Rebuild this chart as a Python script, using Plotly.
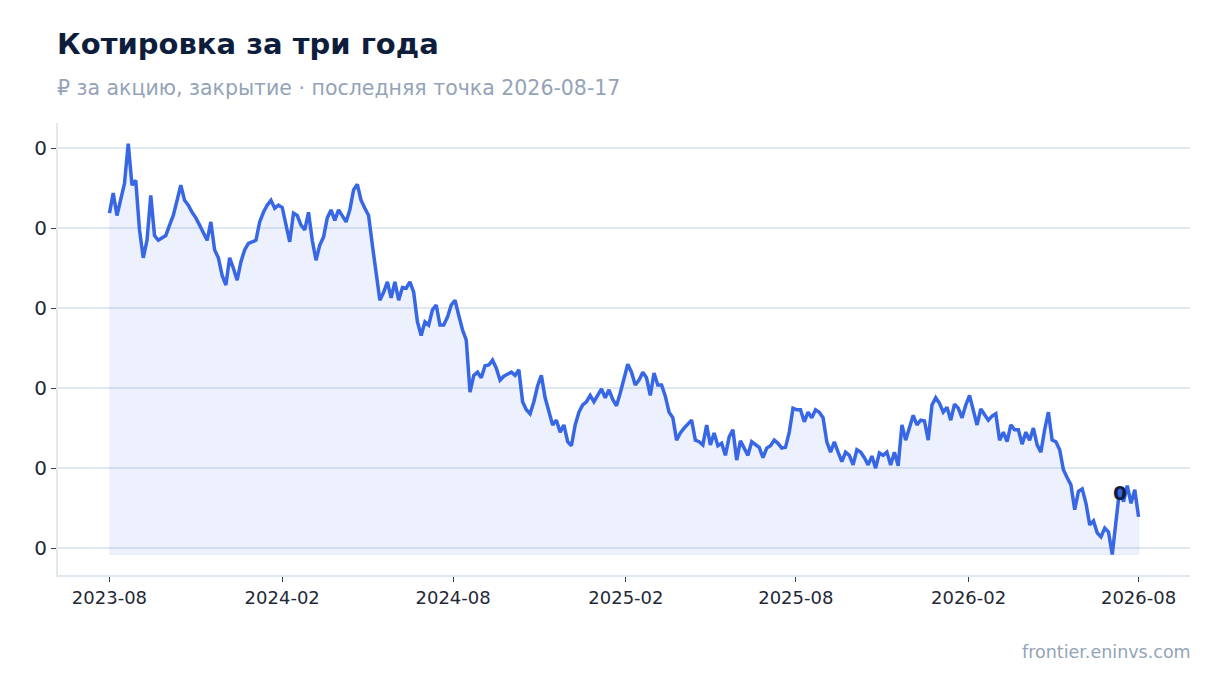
import plotly.graph_objects as go
import pandas as pd

# daily closes sampled every 4 days, 2023-08-17 .. 2026-08-17
dates = pd.date_range("2023-08-17", "2026-08-17", freq="4D")

close = [
    0.0519, 0.0544, 0.0516, 0.0535, 0.0556, 0.0606, 0.0554, 0.0560, 0.0498, 0.0463,
    0.0485, 0.0541, 0.0491, 0.0485, 0.0488, 0.0491, 0.0504, 0.0516, 0.0535, 0.0554,
    0.0535, 0.0529, 0.0520, 0.0513, 0.0504, 0.0495, 0.0485, 0.0508, 0.0473, 0.0463,
    0.0441, 0.0429, 0.0463, 0.0450, 0.0435, 0.0458, 0.0473, 0.0481, 0.0483, 0.0485,
    0.0508, 0.0520, 0.0529, 0.0535, 0.0525, 0.0529, 0.0526, 0.0504, 0.0483, 0.0519,
    0.0516, 0.0504, 0.0498, 0.0520, 0.0485, 0.0460, 0.0479, 0.0489, 0.0513, 0.0523,
    0.0510, 0.0523, 0.0516, 0.0508, 0.0523, 0.0548, 0.0555, 0.0535, 0.0525, 0.0516,
    0.0479, 0.0448, 0.0410, 0.0420, 0.0433, 0.0413, 0.0433, 0.0410, 0.0426, 0.0425,
    0.0433, 0.0420, 0.0383, 0.0366, 0.0383, 0.0379, 0.0398, 0.0404, 0.0379, 0.0379,
    0.0389, 0.0404, 0.0410, 0.0391, 0.0373, 0.0360, 0.0295, 0.0316, 0.0320, 0.0313,
    0.0328, 0.0329, 0.0335, 0.0325, 0.0310, 0.0315, 0.0318, 0.0320, 0.0316, 0.0323,
    0.0283, 0.0273, 0.0268, 0.0283, 0.0303, 0.0316, 0.0288, 0.0270, 0.0254, 0.0260,
    0.0245, 0.0254, 0.0233, 0.0228, 0.0254, 0.0270, 0.0279, 0.0283, 0.0291, 0.0283,
    0.0291, 0.0299, 0.0288, 0.0298, 0.0286, 0.0278, 0.0294, 0.0313, 0.0330, 0.0320,
    0.0304, 0.0310, 0.0320, 0.0313, 0.0291, 0.0319, 0.0304, 0.0304, 0.0290, 0.0270,
    0.0263, 0.0235, 0.0244, 0.0250, 0.0255, 0.0260, 0.0235, 0.0233, 0.0229, 0.0254,
    0.0229, 0.0244, 0.0228, 0.0231, 0.0216, 0.0239, 0.0248, 0.0210, 0.0234, 0.0226,
    0.0216, 0.0233, 0.0230, 0.0226, 0.0213, 0.0225, 0.0228, 0.0235, 0.0231, 0.0225,
    0.0226, 0.0245, 0.0275, 0.0273, 0.0273, 0.0258, 0.0270, 0.0263, 0.0273, 0.0270,
    0.0263, 0.0233, 0.0220, 0.0233, 0.0220, 0.0208, 0.0220, 0.0216, 0.0204, 0.0223,
    0.0220, 0.0213, 0.0204, 0.0215, 0.0200, 0.0219, 0.0216, 0.0220, 0.0204, 0.0220,
    0.0203, 0.0254, 0.0235, 0.0250, 0.0266, 0.0254, 0.0260, 0.0259, 0.0235, 0.0279,
    0.0288, 0.0281, 0.0270, 0.0276, 0.0260, 0.0280, 0.0275, 0.0263, 0.0279, 0.0291,
    0.0270, 0.0254, 0.0274, 0.0266, 0.0260, 0.0265, 0.0268, 0.0235, 0.0245, 0.0233,
    0.0254, 0.0248, 0.0248, 0.0230, 0.0245, 0.0235, 0.0250, 0.0229, 0.0220, 0.0248,
    0.0270, 0.0235, 0.0233, 0.0223, 0.0198, 0.0188, 0.0179, 0.0148, 0.0171, 0.0174,
    0.0156, 0.0129, 0.0134, 0.0119, 0.0114, 0.0125, 0.0120, 0.0092, 0.0138, 0.0175,
    0.0158, 0.0178, 0.0156, 0.0173, 0.0139,
]

LINE = "#3867e6"
FILL = "rgba(56,103,230,0.09)"
FONT = "DejaVu Sans"

base = min(close)
lo, hi = min(close), max(close)
pad_y = (hi - lo) * 0.05
span_x = dates[-1] - dates[0]
pad_x = span_x * 0.05

fig = go.Figure()

# soft area under the line down to the period low
fig.add_trace(go.Scatter(
    x=list(dates) + list(dates[::-1]),
    y=close + [base] * len(close),
    fill="toself", fillcolor=FILL,
    line=dict(color="rgba(56,103,230,0.08)", width=1),
    hoverinfo="skip", showlegend=False))

fig.add_trace(go.Scatter(
    x=dates, y=close, mode="lines",
    line=dict(color=LINE, width=3.5),
    showlegend=False))

fig.add_annotation(
    x=dates[-1], y=close[-1], text="<b>{:.0f}</b>".format(close[-1]),
    showarrow=False, xanchor="right", yanchor="bottom", xshift=-10, yshift=10,
    font=dict(family=FONT, size=20, color="#0f1d3d"))

fig.add_annotation(
    x=0, y=1.175, xref="paper", yref="paper", xanchor="left", yanchor="middle",
    xshift=-3, text="<b>Котировка за три года</b>", showarrow=False,
    font=dict(family=FONT, size=29, color="#0f1d3d"))
fig.add_annotation(
    x=0, y=1.077, xref="paper", yref="paper", xanchor="left", yanchor="middle",
    xshift=-3, text="₽ за акцию, закрытие · последняя точка 2026-08-17", showarrow=False,
    font=dict(family=FONT, size=20.5, color="#94a3b8"))
fig.add_annotation(
    x=1, y=-0.17, xref="paper", yref="paper", xanchor="right", yanchor="middle",
    xshift=3, text="frontier.eninvs.com", showarrow=False,
    font=dict(family=FONT, size=17.5, color="#94a3b8"))

fig.update_layout(
    width=1220, height=693,
    margin=dict(l=50, r=38, t=115, b=126),
    plot_bgcolor="white", paper_bgcolor="white",
    font=dict(family=FONT, color="#1f2937"))

fig.update_xaxes(
    range=[dates[0] - pad_x, dates[-1] + pad_x],
    tick0="2023-08-17", dtick="M6", tickformat="%Y-%m",
    ticks="outside", ticklen=5, tickcolor="#374151",
    showgrid=False, showline=True, linecolor="#e2e8f0", linewidth=2,
    tickfont=dict(size=18, color="#1f2937"))
fig.update_yaxes(
    range=[lo - pad_y, hi + pad_y],
    tick0=0, dtick=0.01, tickformat=".0f",
    ticks="outside", ticklen=5, tickcolor="#374151",
    showgrid=True, gridcolor="#e2e8f0", gridwidth=1.5,
    showline=True, linecolor="#e2e8f0", linewidth=2, zeroline=False,
    tickfont=dict(size=20, color="#1f2937"))

fig.write_html("out.html")
